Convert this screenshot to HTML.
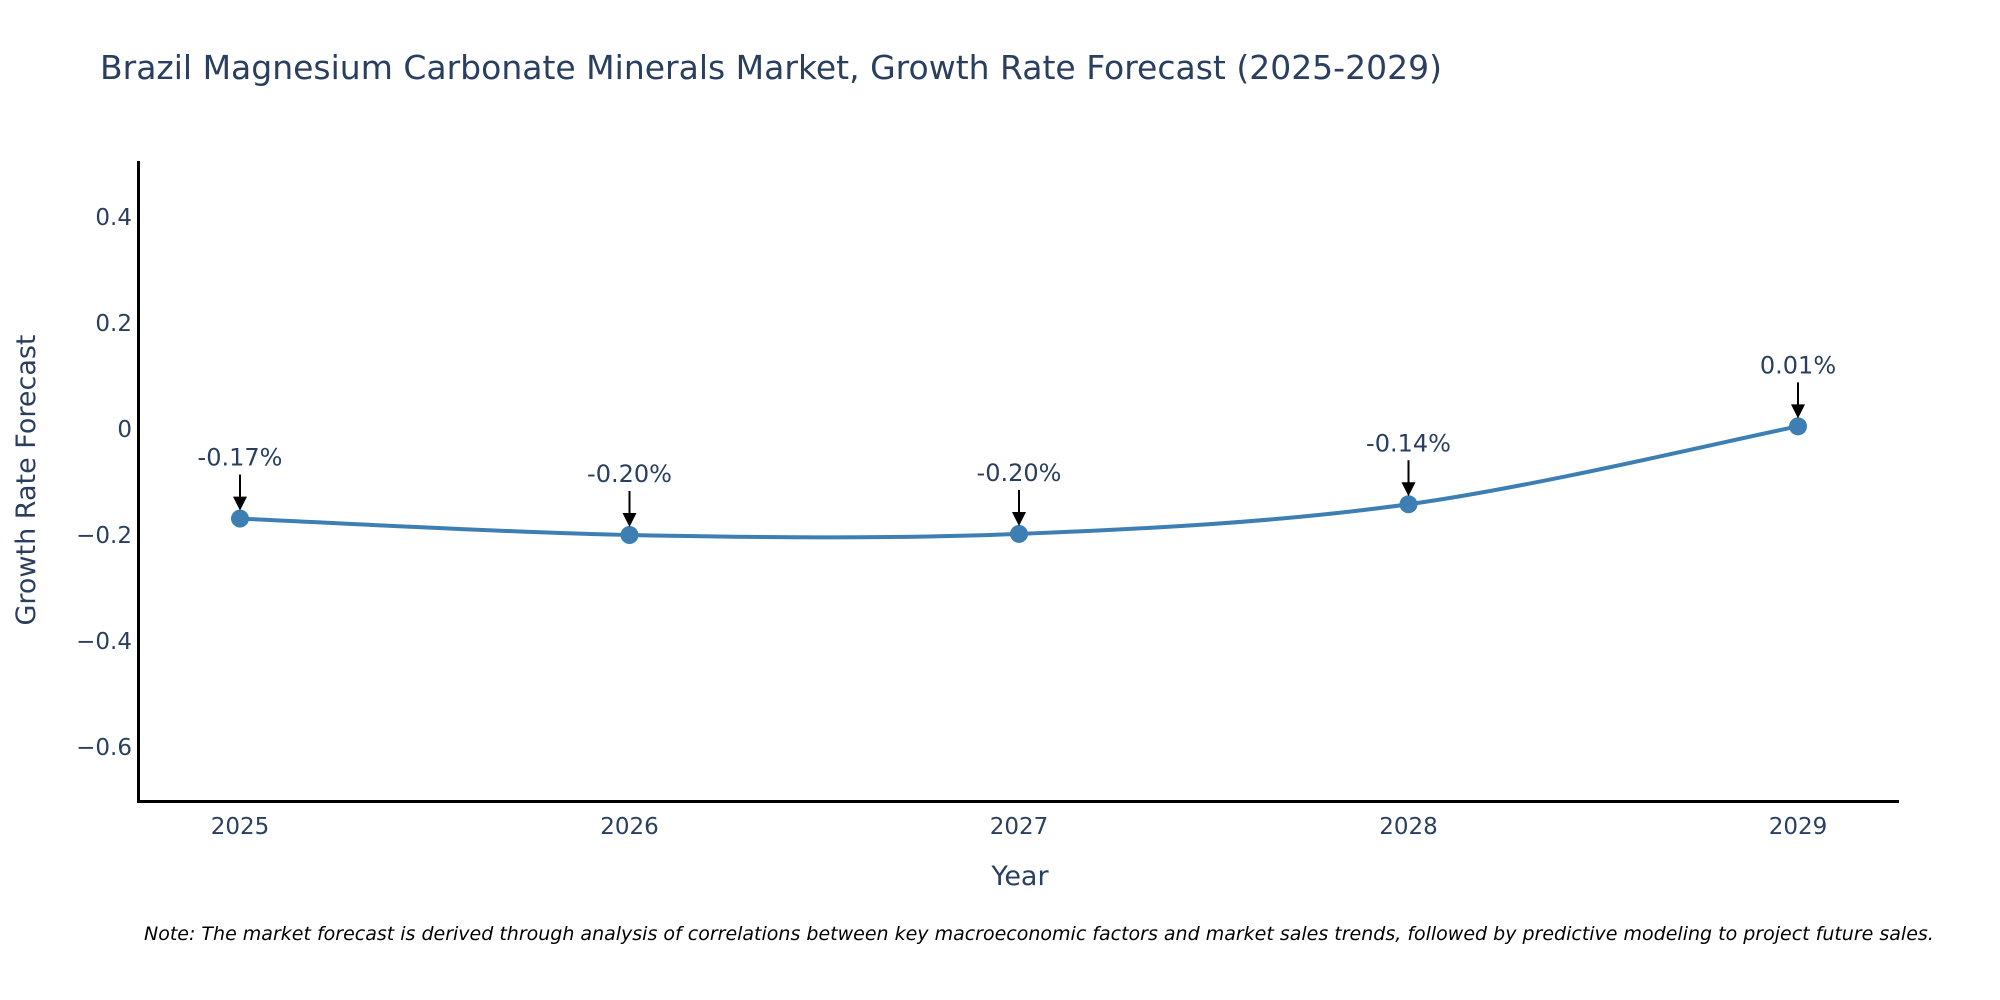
<!DOCTYPE html>
<html><head><meta charset="utf-8"><style>
html,body{margin:0;padding:0;background:#fff;}
svg{display:block;font-family:"DejaVu Sans","Liberation Sans",sans-serif;}
</style></head><body>
<svg id="chart" width="2000" height="1000" viewBox="0 0 2000 1000" xmlns="http://www.w3.org/2000/svg">
<text x="100" y="79" font-size="33" fill="#2a3f5f">Brazil Magnesium Carbonate Minerals Market, Growth Rate Forecast (2025-2029)</text>
<g id="yticks"></g><g id="xticks"></g>
<line x1="138.5" y1="161" x2="138.5" y2="802" stroke="#000" stroke-width="3"/>
<line x1="137" y1="801.5" x2="1899" y2="801.5" stroke="#000" stroke-width="3"/>
<path id="line" fill="none" stroke="#3d7fb3" stroke-width="4"/>
<g id="marks"></g>
<text transform="translate(35,480) rotate(-90)" text-anchor="middle" font-size="27" fill="#2a3f5f">Growth Rate Forecast</text>
<text x="1020" y="885" text-anchor="middle" font-size="27" fill="#2a3f5f">Year</text>
<text x="144" y="940" font-size="19" font-style="italic" fill="#000">Note: The market forecast is derived through analysis of correlations between key macroeconomic factors and market sales trends, followed by predictive modeling to project future sales.</text>
</svg>
<script>
const years=[2025,2026,2027,2028,2029];
const values=[-0.169,-0.2,-0.198,-0.142,0.005];
const labels=["-0.17%","-0.20%","-0.20%","-0.14%","0.01%"];
const yTicks=[0.4,0.2,0,-0.2,-0.4,-0.6];
const yTickLabels=["0.4","0.2","0","\u22120.2","\u22120.4","\u22120.6"];
const NS="http://www.w3.org/2000/svg";
function xs(y){return 240+(y-2025)*389.5;}
function ys(v){return 429-v*530;}
function mk(t,a,p){const e=document.createElementNS(NS,t);for(const k in a)e.setAttribute(k,a[k]);if(p)p.appendChild(e);return e;}
const yt=document.getElementById('yticks');
yTicks.forEach((v,i)=>{const t=mk('text',{x:132,y:ys(v)+8,'text-anchor':'end','font-size':23,fill:'#2a3f5f'},yt);


t.textContent=yTickLabels[i];});
const xt=document.getElementById('xticks');
years.forEach(y=>{const t=mk('text',{x:xs(y),y:834,'text-anchor':'middle','font-size':23,fill:'#2a3f5f'},xt);


t.textContent=y;});
const P=years.map((y,i)=>[xs(y),ys(values[i])]);
let d='M'+P[0][0]+','+P[0][1];
for(let i=0;i<P.length-1;i++){const p0=P[Math.max(i-1,0)],p1=P[i],p2=P[i+1],p3=P[Math.min(i+2,P.length-1)];const s=6;
d+=' C'+(p1[0]+(p2[0]-p0[0])/s)+','+(p1[1]+(p2[1]-p0[1])/s)+' '+(p2[0]-(p3[0]-p1[0])/s)+','+(p2[1]-(p3[1]-p1[1])/s)+' '+p2[0]+','+p2[1];}
document.getElementById('line').setAttribute('d',d);
const g=document.getElementById('marks');
P.forEach((p,i)=>{const c=mk('circle',{cx:p[0],cy:p[1],r:9,fill:'#3d7fb3'},g);


const a=mk('line',{x1:p[0],y1:p[1]-44,x2:p[0],y2:p[1]-20,stroke:'#000','stroke-width':2},g);


const h=mk('path',{d:'M'+(p[0]-7)+','+(p[1]-22)+' L'+(p[0]+7)+','+(p[1]-22)+' L'+p[0]+','+(p[1]-8)+' Z',fill:'#000'},g);


const t=mk('text',{x:p[0],y:p[1]-53,'text-anchor':'middle','font-size':24,fill:'#2a3f5f'},g);


t.textContent=labels[i];});
</script>
</body></html>
